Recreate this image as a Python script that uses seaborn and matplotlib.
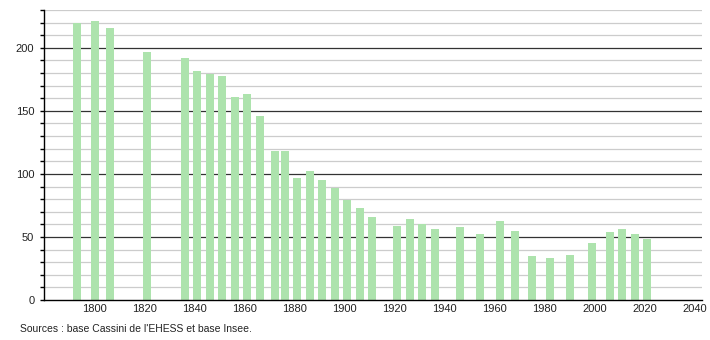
import matplotlib
matplotlib.use("Agg")
import matplotlib.pyplot as plt
import seaborn as sns
import pandas as pd
from matplotlib.ticker import MultipleLocator

years = [1793, 1800, 1806, 1821, 1836, 1841, 1846, 1851, 1856, 1861, 1866,
         1872, 1876, 1881, 1886, 1891, 1896, 1901, 1906, 1911, 1921, 1926,
         1931, 1936, 1946, 1954, 1962, 1968, 1975, 1982, 1990, 1999, 2006,
         2011, 2016, 2021]
population = [220, 221, 216, 197, 192, 182, 179, 178, 161, 163, 146,
              118, 118, 97, 102, 95, 89, 79, 73, 66, 59, 64,
              60, 56, 58, 52, 63, 55, 35, 33, 36, 45, 54,
              56, 52, 48]
x_ticks = [1800, 1820, 1840, 1860, 1880, 1900, 1920, 1940, 1960, 1980, 2000, 2020, 2040]
y_ticks = [0, 50, 100, 150, 200]
source_text = "Sources : base Cassini de l'EHESS et base Insee."

df = pd.DataFrame({"year": years, "population": population})

sns.set_style("white")
plt.rcParams["font.family"] = ["Liberation Sans", "DejaVu Sans"]

fig = plt.figure(figsize=(7.1, 3.4), dpi=100)
ax = fig.add_axes([44 / 710, 40 / 340, (702 - 44) / 710, 290 / 340])

# gridlines
for v in range(10, 231, 10):
    if v % 50 == 0:
        ax.axhline(v, color="#333333", lw=0.9, zorder=1)
    else:
        ax.axhline(v, color="#cccccc", lw=0.9, zorder=1)

ax.bar(df["year"], df["population"], width=3.2, color="#ade3ad", zorder=2,
       linewidth=0)

ax.set_xlim(1779.7, 2043)
ax.set_ylim(0, 230)
ax.set_xticks(x_ticks)
ax.set_yticks(y_ticks)
ax.yaxis.set_minor_locator(MultipleLocator(10))
ax.tick_params(axis="y", which="both", length=3, width=1, color="black",
               direction="out", labelsize=8, pad=4, left=True)
ax.tick_params(axis="x", which="both", length=0, labelsize=8, pad=3)
for lab in ax.get_xticklabels() + ax.get_yticklabels():
    lab.set_color("#222222")

for s in ["top", "right"]:
    ax.spines[s].set_visible(False)
ax.spines["left"].set_color("black")
ax.spines["bottom"].set_color("black")
ax.spines["left"].set_linewidth(1)
ax.spines["bottom"].set_linewidth(1)
ax.set_xlabel("")
ax.set_ylabel("")

fig.text(20 / 710, 1 - 329 / 340, source_text, fontsize=7.5, color="#222222",
         va="center", ha="left")

fig.savefig("out.png", dpi=100)
